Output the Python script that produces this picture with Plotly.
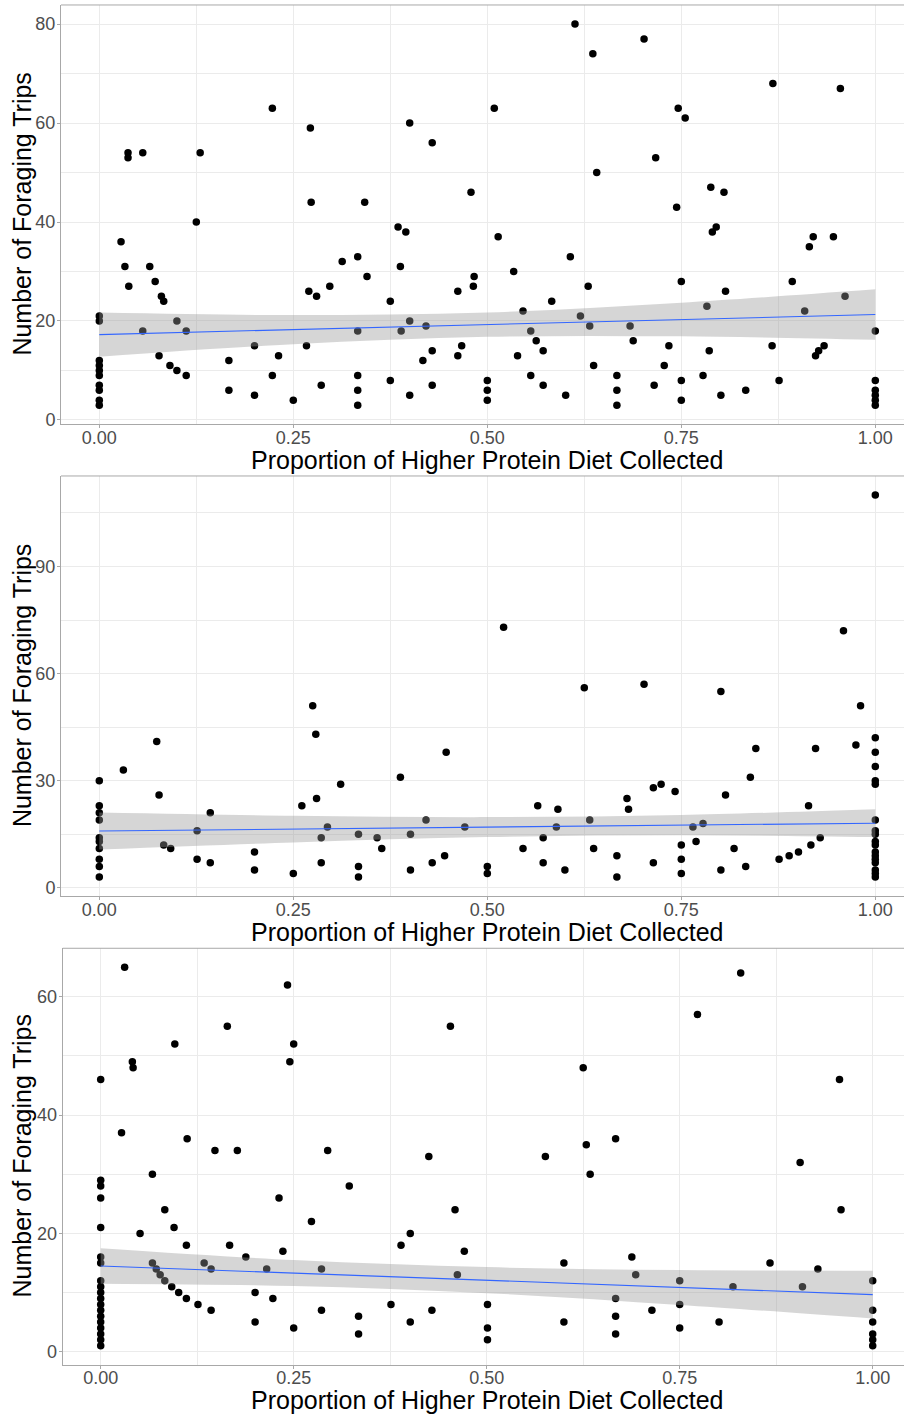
import plotly.graph_objects as go

# ---- data: proportion of higher-protein diet collected vs. number of foraging trips ----
p1_x = [0, 0, 0, 0, 0, 0, 0, 0, 0, 0,
        0.028, 0.033, 0.037, 0.037, 0.038, 0.056, 0.056, 0.065, 0.072, 0.077,
        0.080, 0.083, 0.091, 0.100, 0.100, 0.112, 0.112, 0.125, 0.130, 0.167,
        0.167, 0.200, 0.200, 0.223, 0.223, 0.231, 0.250, 0.267, 0.270, 0.272,
        0.273, 0.280, 0.286, 0.297, 0.313, 0.333, 0.333, 0.333, 0.333, 0.333,
        0.342, 0.345, 0.375, 0.375, 0.385, 0.388, 0.389, 0.395, 0.400, 0.400,
        0.400, 0.417, 0.421, 0.429, 0.429, 0.429, 0.462, 0.462, 0.467, 0.479,
        0.482, 0.483, 0.500, 0.500, 0.500, 0.509, 0.514, 0.534, 0.539, 0.546,
        0.556, 0.556, 0.563, 0.572, 0.572, 0.583, 0.601, 0.607, 0.613, 0.620,
        0.630, 0.632, 0.636, 0.637, 0.641, 0.667, 0.667, 0.667, 0.684, 0.688,
        0.702, 0.715, 0.717, 0.728, 0.734, 0.744, 0.746, 0.750, 0.750, 0.750,
        0.755, 0.778, 0.783, 0.786, 0.788, 0.790, 0.795, 0.801, 0.805, 0.807,
        0.833, 0.867, 0.868, 0.876, 0.893, 0.909, 0.915, 0.920, 0.923, 0.927,
        0.934, 0.946, 0.955, 0.961, 1, 1, 1, 1, 1, 1]
p1_y = [3, 4, 6, 7, 9, 10, 11, 12, 20, 21,
        36, 31, 54, 53, 27, 54, 18, 31, 28, 13,
        25, 24, 11, 20, 10, 18, 9, 40, 54, 12,
        6, 15, 5, 63, 9, 13, 4, 15, 26, 59,
        44, 25, 7, 27, 32, 33, 18, 9, 6, 3,
        44, 29, 24, 8, 39, 31, 18, 38, 60, 20,
        5, 12, 19, 56, 14, 7, 26, 13, 15, 46,
        27, 29, 8, 6, 4, 63, 37, 30, 13, 22,
        18, 9, 16, 14, 7, 24, 5, 33, 80, 21,
        27, 19, 74, 11, 50, 9, 6, 3, 19, 16,
        77, 7, 53, 11, 15, 43, 63, 28, 8, 4,
        61, 9, 23, 14, 47, 38, 39, 5, 46, 26,
        6, 15, 68, 8, 28, 22, 35, 37, 13, 14,
        15, 37, 67, 25, 18, 8, 6, 5, 4, 3]

p2_x = [0, 0, 0, 0, 0, 0, 0, 0, 0, 0,
        0.031, 0.074, 0.077, 0.083, 0.092, 0.126, 0.126, 0.143, 0.143, 0.200,
        0.200, 0.250, 0.261, 0.275, 0.279, 0.280, 0.286, 0.286, 0.294, 0.311,
        0.334, 0.334, 0.334, 0.358, 0.364, 0.388, 0.401, 0.401, 0.421, 0.429,
        0.445, 0.447, 0.471, 0.500, 0.500, 0.521, 0.546, 0.565, 0.572, 0.572,
        0.589, 0.591, 0.600, 0.625, 0.632, 0.637, 0.667, 0.667, 0.680, 0.682,
        0.702, 0.714, 0.714, 0.724, 0.742, 0.750, 0.750, 0.750, 0.765, 0.769,
        0.778, 0.801, 0.801, 0.807, 0.818, 0.833, 0.839, 0.846, 0.876, 0.889,
        0.901, 0.914, 0.917, 0.923, 0.929, 0.959, 0.975, 0.981,
        1, 1, 1, 1, 1, 1, 1, 1, 1, 1, 1, 1, 1, 1, 1, 1, 1, 1]
p2_y = [3, 6, 8, 11, 13, 14, 19, 21, 23, 30,
        33, 41, 26, 12, 11, 16, 8, 21, 7, 10,
        5, 4, 23, 51, 43, 25, 14, 7, 17, 29,
        15, 6, 3, 14, 11, 31, 15, 5, 19, 7,
        9, 38, 17, 6, 4, 73, 11, 23, 14, 7,
        17, 22, 5, 56, 19, 11, 9, 3, 25, 22,
        57, 28, 7, 29, 27, 12, 8, 4, 17, 13,
        18, 55, 5, 26, 11, 6, 31, 39, 8, 9,
        10, 23, 12, 39, 14, 72, 40, 51,
        110, 42, 38, 34, 30, 29, 19, 16, 15, 13, 12, 10, 9, 8, 7, 5, 4, 3]

p3_x = [0, 0, 0, 0, 0, 0, 0, 0, 0, 0, 0, 0, 0, 0, 0, 0, 0, 0, 0,
        0.027, 0.031, 0.041, 0.042, 0.051, 0.067, 0.067, 0.072, 0.077, 0.083,
        0.083, 0.092, 0.095, 0.096, 0.101, 0.111, 0.111, 0.112, 0.126, 0.134,
        0.143, 0.143, 0.148, 0.164, 0.167, 0.177, 0.188, 0.200, 0.200, 0.215,
        0.223, 0.231, 0.236, 0.242, 0.245, 0.250, 0.250, 0.273, 0.286, 0.286,
        0.294, 0.322, 0.334, 0.334, 0.376, 0.389, 0.401, 0.401, 0.425, 0.429,
        0.453, 0.459, 0.462, 0.471, 0.501, 0.501, 0.501, 0.576, 0.600, 0.600,
        0.625, 0.629, 0.634, 0.667, 0.667, 0.667, 0.667, 0.688, 0.693, 0.714,
        0.750, 0.750, 0.750, 0.773, 0.801, 0.819, 0.829, 0.867, 0.906, 0.909,
        0.929, 0.957, 0.959, 1, 1, 1, 1, 1, 1]
p3_y = [46, 29, 28, 26, 21, 16, 15, 12, 11, 10, 9, 8, 7, 6, 5, 4, 3, 2, 1,
        37, 65, 49, 48, 20, 30, 15, 14, 13, 24,
        12, 11, 21, 52, 10, 9, 18, 36, 8, 15,
        14, 7, 34, 55, 18, 34, 16, 10, 5, 14,
        9, 26, 17, 62, 49, 52, 4, 22, 14, 7,
        34, 28, 6, 3, 8, 18, 20, 5, 33, 7,
        55, 24, 13, 17, 8, 4, 2, 33, 15, 5,
        48, 35, 30, 36, 9, 6, 3, 16, 13, 7,
        12, 8, 4, 57, 5, 11, 64, 15, 32, 11,
        14, 46, 24, 12, 7, 5, 3, 2, 1]

# linear fit (ends at x = 0 and 1) and its 95% confidence band
fit_x = [0, 1]
band_x = [0, 0.25, 0.5, 0.75, 1]
p1_fit = [17.25, 21.3]
p1_lo = [12.8, 15.3, 16.8, 16.9, 16.2]
p1_hi = [21.7, 21.2, 21.7, 23.7, 26.4]
p2_fit = [15.9, 18.1]
p2_lo = [10.7, 12.7, 14.2, 14.7, 14.2]
p2_hi = [21.1, 20.2, 19.8, 20.4, 22.0]
p3_fit = [14.5, 9.65]
p3_lo = [11.5, 11.1, 9.9, 7.9, 5.6]
p3_hi = [17.5, 15.5, 14.3, 13.8, 13.7]

x_ticks = [0, 0.25, 0.5, 0.75, 1.0]
x_tick_text = ["0.00", "0.25", "0.50", "0.75", "1.00"]
y_major = [20, 30, 20]

x_title = "Proportion of Higher Protein Diet Collected"
y_title = "Number of Foraging Trips"

# ---- page geometry (pixels) ----
W, H = 904, 1420
panels = [
    dict(left=61.0, top=5.0, bottom=426.0, x0px=99.3, xscale=776.0, xtitle=461.5),
    dict(left=61.0, top=478.0, bottom=900.0, x0px=99.3, xscale=776.0, xtitle=935.5),
    dict(left=62.7, top=952.3, bottom=1370.5, x0px=100.7, xscale=772.0, xtitle=1405.5),
]

FONT = "Liberation Sans, Arial, sans-serif"
TICK_COLOR = "#4D4D4D"
GRID = "#EBEBEB"
BORDER = "#A8A8A8"

fig = go.Figure()
datasets = [
    (p1_x, p1_y, p1_fit, p1_lo, p1_hi),
    (p2_x, p2_y, p2_fit, p2_lo, p2_hi),
    (p3_x, p3_y, p3_fit, p3_lo, p3_hi),
]

for i, ((xs, ys, fit, lo, hi), geo, dmaj) in enumerate(zip(datasets, panels, y_major)):
    k = "" if i == 0 else str(i + 1)
    xa, ya = "x" + k, "y" + k

    fig.add_trace(go.Scatter(
        x=xs, y=ys, mode="markers", xaxis=xa, yaxis=ya,
        marker=dict(color="black", size=7.5, line=dict(width=0)),
        showlegend=False, hoverinfo="skip"))

    # confidence band drawn over the points, then the fitted line
    fig.add_trace(go.Scatter(
        x=band_x, y=lo, mode="lines", line=dict(width=0, shape="spline", smoothing=1),
        xaxis=xa, yaxis=ya, showlegend=False, hoverinfo="skip"))
    fig.add_trace(go.Scatter(
        x=band_x, y=hi, mode="lines", line=dict(width=0, shape="spline", smoothing=1),
        fill="tonexty", fillcolor="rgba(153,153,153,0.4)",
        xaxis=xa, yaxis=ya, showlegend=False, hoverinfo="skip"))
    fig.add_trace(go.Scatter(
        x=fit_x, y=fit, mode="lines", line=dict(color="#3366FF", width=1.1),
        xaxis=xa, yaxis=ya, showlegend=False, hoverinfo="skip"))

    # axis ranges: 5% expansion in y; x spans the visible panel
    ymin, ymax = min(ys), max(ys)
    pad = 0.05 * (ymax - ymin)
    xr = [(geo["left"] - geo["x0px"]) / geo["xscale"], (W - geo["x0px"]) / geo["xscale"]]

    fig.layout["xaxis" + k] = dict(
        domain=[geo["left"] / W, 1.0], range=xr, anchor=ya,
        tickvals=x_ticks, ticktext=x_tick_text,
        ticks="outside", ticklen=3, tickcolor=BORDER, tickwidth=1,
        ticklabelstandoff=-6,
        tickfont=dict(family=FONT, size=18, color=TICK_COLOR),
        showgrid=True, gridcolor=GRID, gridwidth=1,
        minor=dict(tick0=0, dtick=0.125, showgrid=True, gridcolor=GRID, gridwidth=0.6, ticks=""),
        showline=True, linecolor=BORDER, linewidth=1, zeroline=False, fixedrange=True)
    fig.layout["yaxis" + k] = dict(
        domain=[1 - geo["bottom"] / H, 1 - geo["top"] / H],
        range=[ymin - pad, ymax + pad], anchor=xa,
        tick0=0, dtick=dmaj,
        ticks="outside", ticklen=3, tickcolor=BORDER, tickwidth=1,
        ticklabelstandoff=-2,
        tickfont=dict(family=FONT, size=18, color=TICK_COLOR),
        showgrid=True, gridcolor=GRID, gridwidth=1,
        minor=dict(tick0=0, dtick=dmaj / 2, showgrid=True, gridcolor=GRID, gridwidth=0.6, ticks=""),
        showline=True, linecolor=BORDER, linewidth=1, zeroline=False, fixedrange=True)

    # top edge of the panel border
    fig.add_shape(type="line", xref=xa + " domain", yref=ya + " domain",
                  x0=0, x1=1, y0=1, y1=1, line=dict(color=BORDER, width=1))

    fig.add_annotation(text=x_title, xref="paper", yref="paper",
                       x=(geo["x0px"] + 0.5 * geo["xscale"]) / W, y=1 - geo["xtitle"] / H,
                       xanchor="center", yanchor="middle", showarrow=False, borderpad=0,
                       font=dict(family=FONT, size=25, color="black"))
    fig.add_annotation(text=y_title, xref="paper", yref="paper", textangle=-90,
                       x=22 / W, y=1 - (geo["top"] + geo["bottom"]) / 2 / H,
                       xanchor="center", yanchor="middle", showarrow=False, borderpad=0,
                       font=dict(family=FONT, size=25, color="black"))

fig.update_layout(
    width=W, height=H, margin=dict(l=0, r=0, t=0, b=0),
    paper_bgcolor="white", plot_bgcolor="white", showlegend=False)

fig.write_html("out.html")
